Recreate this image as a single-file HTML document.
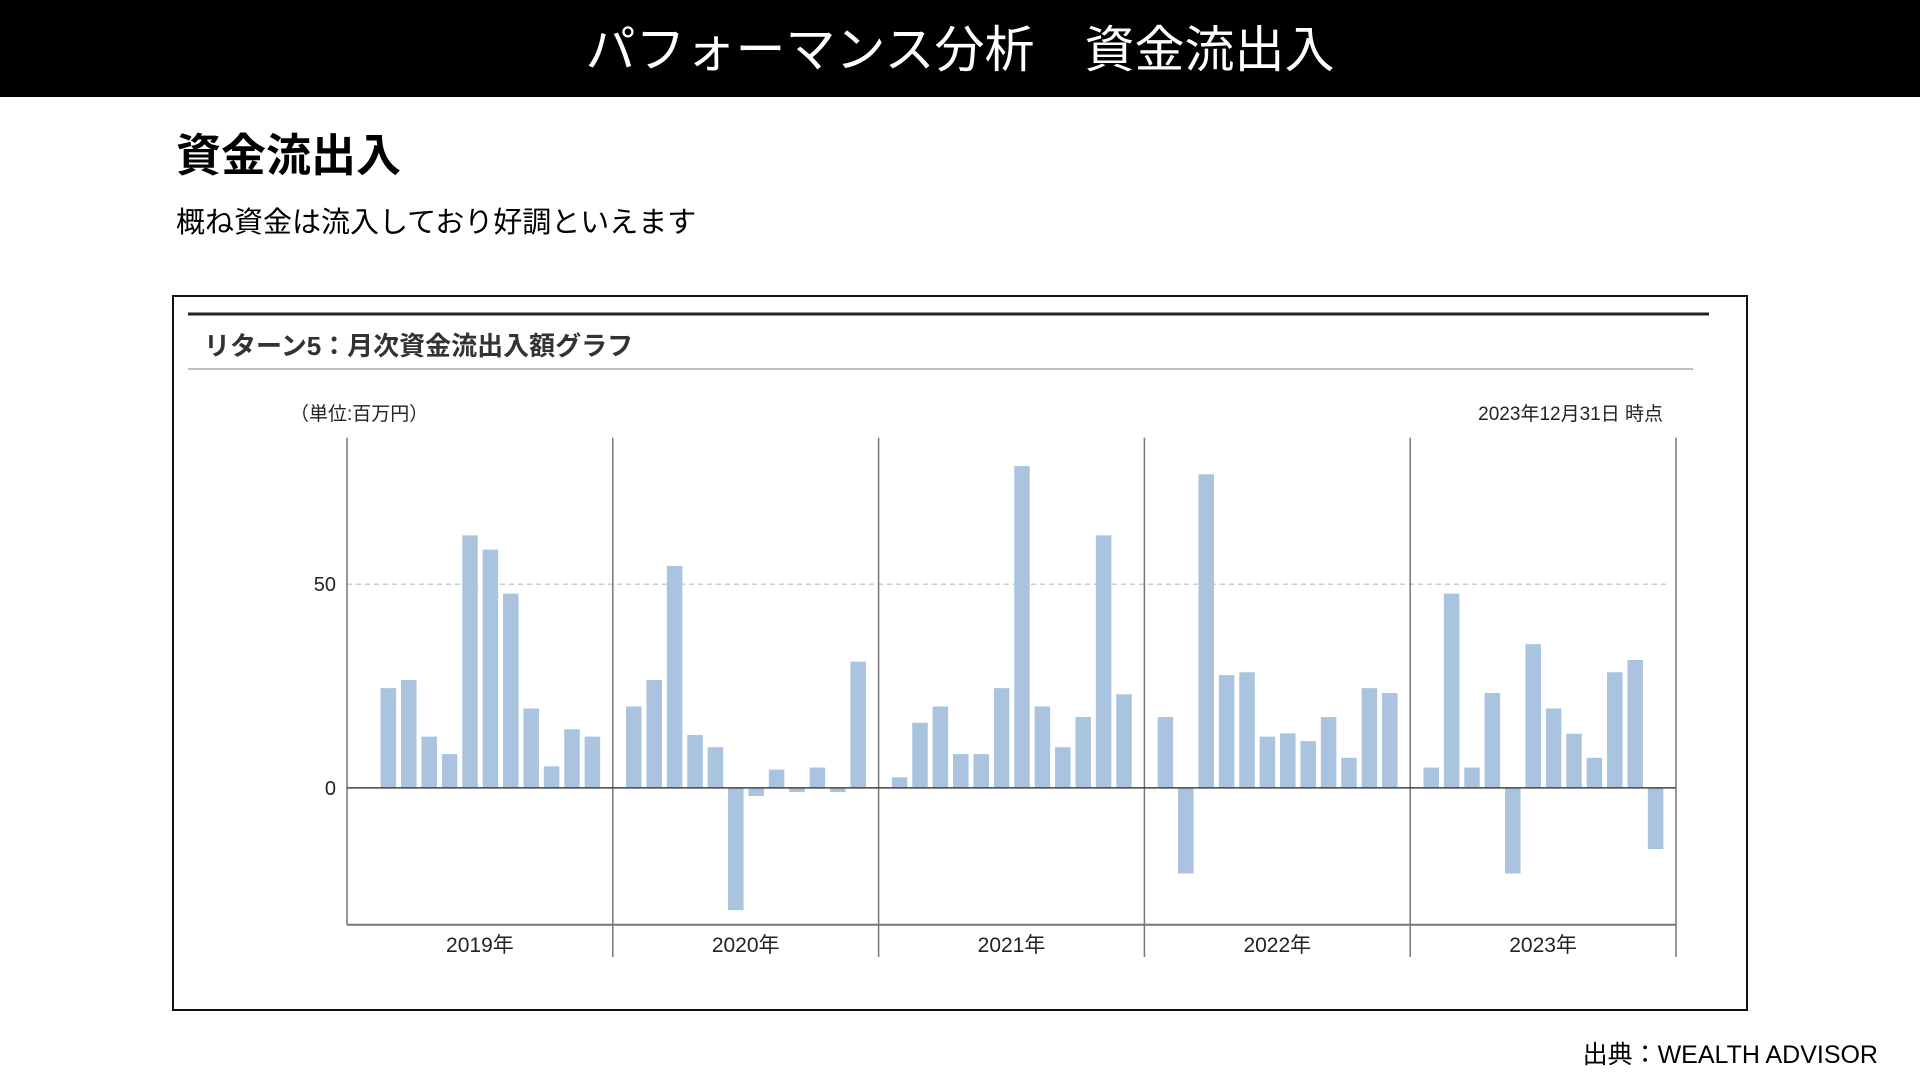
<!DOCTYPE html>
<html lang="ja"><head><meta charset="utf-8">
<style>
html,body{margin:0;padding:0;width:1920px;height:1080px;background:#fff;overflow:hidden;font-family:"Liberation Sans","Noto Sans CJK JP",sans-serif;}
.hdr{position:absolute;left:0;top:0;width:1920px;height:97px;background:#000;color:#fff;font-size:50px;text-align:center;line-height:100px;}
.h1{position:absolute;left:176px;top:126px;font-size:45px;font-weight:bold;line-height:60px;}
.sub{position:absolute;left:176px;top:204px;font-size:29px;line-height:38px;}
.box{position:absolute;left:172px;top:295px;width:1572px;height:712px;border:2px solid #111;}
.src{position:absolute;right:42px;top:1038px;font-size:25px;line-height:34px;}
svg{position:absolute;left:0;top:0;}
</style></head><body>
<div class="hdr">パフォーマンス分析　資金流出入</div>
<div class="h1">資金流出入</div>
<div class="sub">概ね資金は流入しており好調といえます</div>
<div class="box"></div>
<div class="src">出典：WEALTH ADVISOR</div>
<svg id="chart" width="1920" height="1080" font-family="Liberation Sans, Noto Sans CJK JP, sans-serif">
<line x1="188" y1="314" x2="1709" y2="314" stroke="#222" stroke-width="3"/>
<text x="204" y="355" font-size="26" font-weight="bold" fill="#333">リターン5：月次資金流出入額グラフ</text>
<line x1="188" y1="369" x2="1693" y2="369" stroke="#aaa" stroke-width="1.5"/>
<text x="290" y="420" font-size="19" fill="#222">（単位:百万円）</text>
<text x="1663" y="420" font-size="19" fill="#222" text-anchor="end">2023年12月31日 時点</text>
<g id="plot"></g>
</svg>
<script>
const years = ["2019年","2020年","2021年","2022年","2023年"];
const months = [[1,2,3,4,5,6,7,8,9,10,11],[0,1,2,3,4,5,6,7,8,9,10,11],[0,1,2,3,4,5,6,7,8,9,10,11],[0,1,2,3,4,5,6,7,8,9,10,11],[0,1,2,3,4,5,6,7,8,9,10,11]];
const flows2019 = [24.5,26.5,12.6,8.3,62,58.5,47.7,19.5,5.3,14.4,12.6];
const flows2020 = [20,26.5,54.5,13,10,-30,-2,4.5,-1,5,-1,31];
const flows2021 = [2.6,16,20,8.3,8.3,24.5,79,20,10,17.4,62,23];
const flows2022 = [17.4,-21,77,27.7,28.4,12.6,13.4,11.5,17.4,7.4,24.5,23.3];
const flows2023 = [5,47.7,5,23.3,-21,35.3,19.5,13.3,7.4,28.4,31.4,-15];
const yTicks = [0,50];
const yMin = -33.6, yMax = 86;

const NS = "http://www.w3.org/2000/svg";
const plot = document.getElementById('plot');
const plotLeft = 347, plotRight = 1676, plotTop = 437.6, plotBottom = 924.8;
const yearW = (plotRight-plotLeft)/years.length;
function yScale(v){ return plotBottom - (v - yMin)/(yMax - yMin)*(plotBottom-plotTop); }
function xScale(yi, m){ return plotLeft + yi*yearW + 21 + m*20.4; }
function mk(tag, attrs){ const e=document.createElementNS(NS,tag); for(const k in attrs) e.setAttribute(k,attrs[k]); plot.appendChild(e); return e; }

yTicks.forEach(t=>{
  if(t!==0){
    const g=mk('line',{x1:plotLeft,x2:1670,y1:yScale(t),y2:yScale(t),stroke:'#ccc','stroke-width':1.5,'stroke-dasharray':'5,4'});
    
    
  }
  const lb=mk('text',{x:336,y:yScale(t)+7,'font-size':20,fill:'#222','text-anchor':'end'});
  lb.textContent=String(t);
  
  
});

const all=[flows2019,flows2020,flows2021,flows2022,flows2023];
all.forEach((arr,yi)=>{
  arr.forEach((v,i)=>{
    const cx=xScale(yi, months[yi][i]);
    const r=mk('rect',{x:cx-7.75,width:15.5,y:Math.min(yScale(v),yScale(0)),height:Math.abs(yScale(v)-yScale(0)),fill:'#aac4e0'});
    
    
  });
});

for(let i=0;i<=years.length;i++){
  const xx=plotLeft+i*yearW;
  const l=mk('line',{x1:xx,x2:xx,y1:plotTop,y2:i===0?plotBottom:957,stroke:'#777','stroke-width':1.5});
  
  
}
const z=mk('line',{x1:plotLeft,x2:plotRight,y1:yScale(0),y2:yScale(0),stroke:'#444','stroke-width':1.5});


const b=mk('line',{x1:plotLeft,x2:plotRight,y1:plotBottom,y2:plotBottom,stroke:'#777','stroke-width':2});


years.forEach((yr,i)=>{
  const t=mk('text',{x:plotLeft+(i+0.5)*yearW,y:952,'font-size':21,fill:'#222','text-anchor':'middle'});
  t.textContent=yr;
  
  
});
</script>
</body></html>
